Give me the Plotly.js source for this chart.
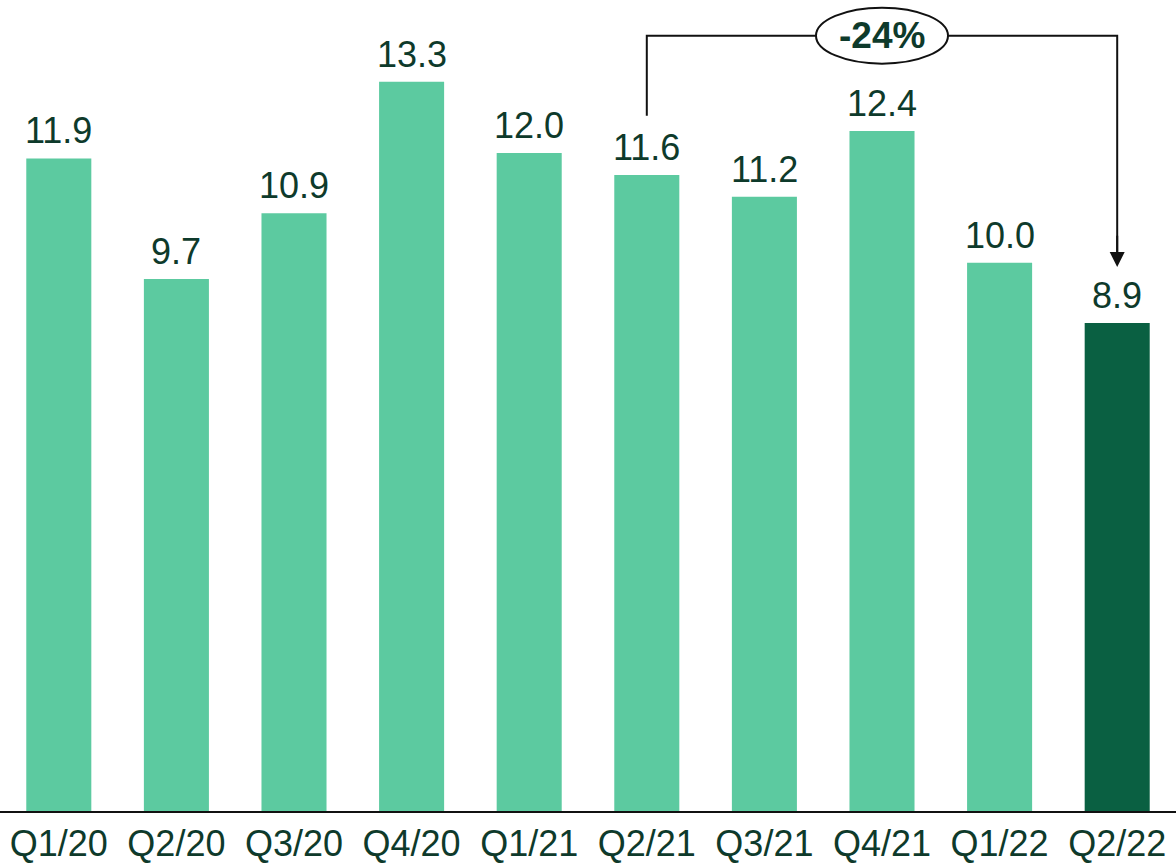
<!DOCTYPE html>
<html>
<head>
<meta charset="utf-8">
<script src="https://cdn.plot.ly/plotly-3.0.1.min.js"></script>
<style>
  html, body { margin: 0; padding: 0; background: #ffffff; }
  #chart { width: 1176px; height: 865px; }
</style>
</head>
<body>
<div id="chart"></div>
<script>
// Quarterly values
const quarters = ['Q1/20', 'Q2/20', 'Q3/20', 'Q4/20', 'Q1/21', 'Q2/21', 'Q3/21', 'Q4/21', 'Q1/22', 'Q2/22'];
const values = [11.9, 9.7, 10.9, 13.3, 12.0, 11.6, 11.2, 12.4, 10.0, 8.9];
const changeLabel = '-24%';

const lightGreen = '#5ccaa0';
const darkGreen = '#0a6042';
const textColor = '#0e3a2b';
const fontFamily = '"Liberation Sans", Arial, sans-serif';

const barColors = values.map((v, i) => i === values.length - 1 ? darkGreen : lightGreen);

const trace = {
  type: 'bar',
  x: quarters,
  y: values,
  marker: { color: barColors, line: { width: 0 } },
  cliponaxis: false,
  hoverinfo: 'skip'
};

// Value labels above each bar
const valueLabels = quarters.map((q, i) => ({
  xref: 'x', yref: 'y', x: q, y: values[i],
  text: values[i].toFixed(1), showarrow: false,
  xanchor: 'center', yanchor: 'bottom', yshift: 5,
  font: { family: fontFamily, size: 36, color: textColor }
}));

// Bracket from the Q2/21 bar to the Q2/22 bar
const fromIdx = 5;
const toIdx = values.length - 1;
const midIdx = 7;
const bracketY = 14.14;
const startY = values[fromIdx] + 1.08;
const tipY = values[toIdx] + 1.02;

const shapes = [
  {
    type: 'path', xref: 'x', yref: 'y', layer: 'above',
    path: `M ${fromIdx},${startY} L ${fromIdx},${bracketY} L ${toIdx},${bracketY} L ${toIdx},${tipY + 0.2}`,
    line: { color: '#111111', width: 2 }
  },
  {
    type: 'circle', xref: 'x', yref: 'y', layer: 'above',
    xsizemode: 'pixel', ysizemode: 'pixel',
    xanchor: midIdx, yanchor: bracketY,
    x0: -66, x1: 66, y0: -28, y1: 28,
    fillcolor: '#ffffff',
    line: { color: '#111111', width: 2 }
  }
];

const annotations = valueLabels.concat([
  {
    xref: 'x', yref: 'y', x: midIdx, y: bracketY,
    text: '<b>' + changeLabel + '</b>', showarrow: false,
    font: { family: fontFamily, size: 37, color: textColor },
    xanchor: 'center', yanchor: 'middle'
  },
  {
    xref: 'x', yref: 'y', x: toIdx, y: tipY,
    axref: 'x', ayref: 'y', ax: toIdx, ay: tipY + 0.6,
    text: '', showarrow: true,
    arrowhead: 2, arrowsize: 1.5, arrowwidth: 2, arrowcolor: '#111111',
    standoff: 0, startstandoff: 0
  }
]);

const layout = {
  width: 1176, height: 865,
  margin: { l: 0, r: 0, t: 0, b: 54, pad: 0 },
  paper_bgcolor: '#ffffff', plot_bgcolor: '#ffffff',
  showlegend: false,
  bargap: 0.447,
  font: { family: fontFamily, color: textColor },
  xaxis: {
    type: 'category',
    showline: true, linecolor: '#111111', linewidth: 2,
    showgrid: false, zeroline: false, ticks: '',
    tickfont: { family: fontFamily, size: 36, color: textColor },
    fixedrange: true
  },
  yaxis: {
    range: [0, 14.79],
    visible: false, showgrid: false, zeroline: false,
    fixedrange: true
  },
  shapes: shapes,
  annotations: annotations
};

Plotly.newPlot('chart', [trace], layout, { displayModeBar: false, staticPlot: true });
</script>
</body>
</html>
